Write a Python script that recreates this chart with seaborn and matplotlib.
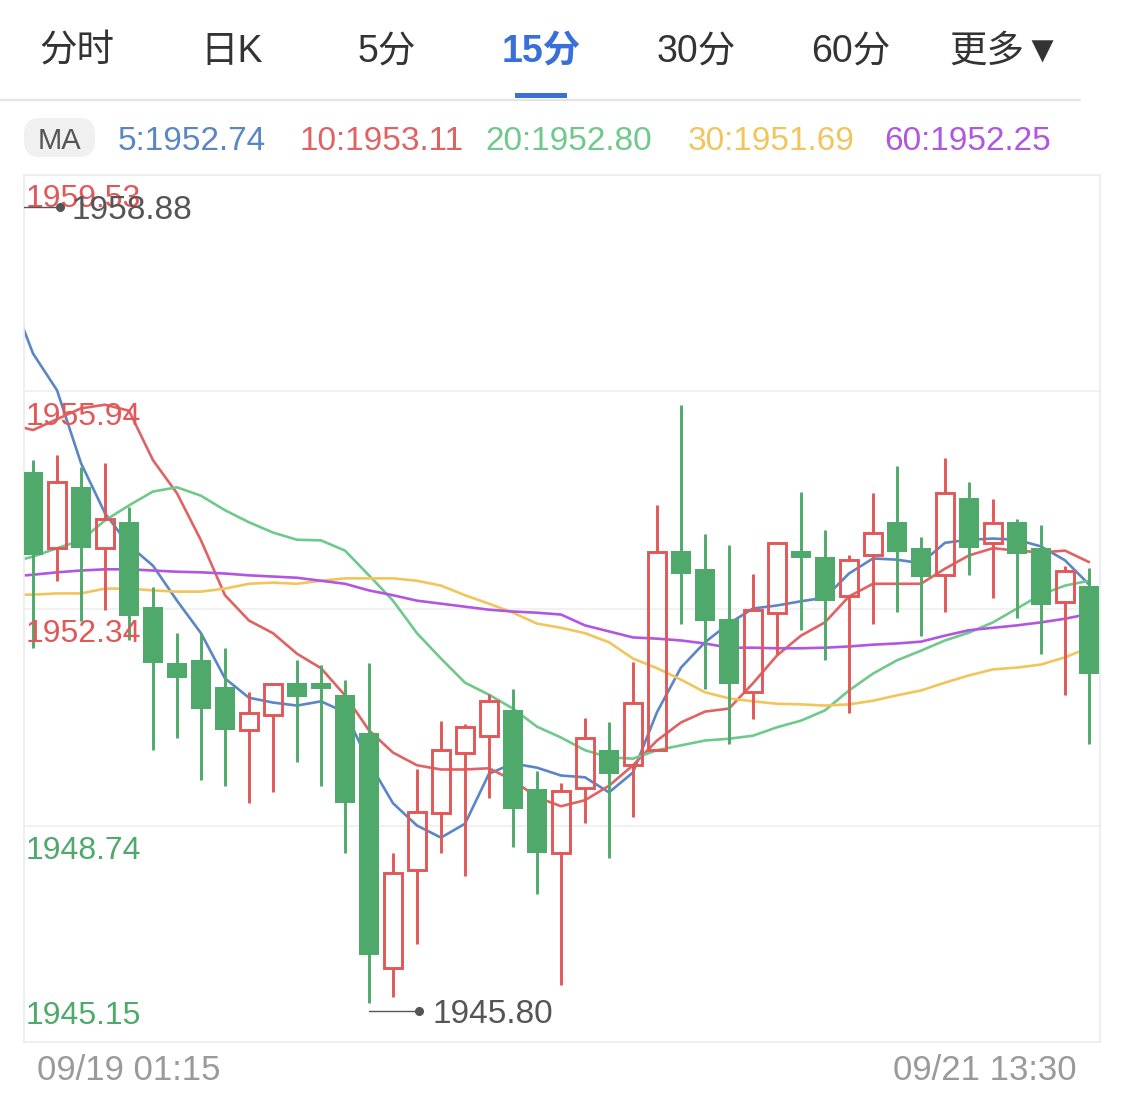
import numpy as np
import pandas as pd
import matplotlib
matplotlib.use("Agg")
import matplotlib.pyplot as plt
import matplotlib.transforms as mtransforms
from matplotlib.patches import FancyBboxPatch, Rectangle
import seaborn as sns

# ---- data (15 min candles) ----
tabs = ["分时", "日K", "5分", "15分", "30分", "60分", "更多▼"]
selected_tab = "15分"

opens = [1954.61, 1953.34, 1954.36, 1953.35, 1953.78, 1952.37, 1951.43, 1951.49, 1951.03, 1950.32,
         1950.58, 1951.10, 1951.10, 1950.91, 1950.28, 1946.37, 1948.01, 1948.94, 1949.94, 1950.23,
         1950.66, 1949.34, 1948.29, 1949.37, 1950.00, 1949.75, 1949.99, 1953.30, 1953.00, 1952.16,
         1950.95, 1952.27, 1953.29, 1953.20, 1952.54, 1953.22, 1953.77, 1953.34, 1952.89, 1954.18,
         1953.42, 1953.77, 1953.34, 1952.44, 1952.71]
highs = [1954.81, 1954.88, 1954.68, 1954.76, 1954.02, 1952.69, 1951.94, 1951.93, 1951.69, 1950.95,
         1951.10, 1951.48, 1951.40, 1951.16, 1951.44, 1948.28, 1949.67, 1950.48, 1950.43, 1950.93,
         1951.01, 1949.65, 1949.44, 1950.53, 1950.45, 1951.46, 1954.05, 1955.71, 1953.58, 1953.40,
         1952.92, 1953.42, 1954.28, 1953.65, 1953.22, 1954.26, 1954.70, 1953.53, 1954.83, 1954.43,
         1954.15, 1953.83, 1953.73, 1953.05, 1953.02]
lows = [1951.69, 1952.80, 1952.14, 1952.31, 1951.81, 1949.99, 1950.20, 1949.49, 1949.40, 1949.11,
        1949.29, 1949.79, 1949.40, 1948.29, 1945.80, 1945.89, 1946.78, 1948.29, 1947.90, 1949.19,
        1948.39, 1947.60, 1946.10, 1948.79, 1948.21, 1948.89, 1949.99, 1952.09, 1951.00, 1950.10,
        1950.50, 1951.59, 1951.99, 1951.49, 1950.60, 1952.09, 1952.29, 1951.89, 1952.29, 1952.90,
        1952.51, 1952.19, 1951.59, 1950.90, 1950.10]
closes = [1953.22, 1954.43, 1953.34, 1953.82, 1952.22, 1951.43, 1951.18, 1950.68, 1950.33, 1950.60,
          1951.08, 1950.88, 1951.01, 1949.12, 1946.60, 1947.96, 1948.96, 1949.99, 1950.37, 1950.80,
          1949.01, 1948.29, 1949.32, 1950.20, 1949.60, 1950.78, 1953.27, 1952.92, 1952.14, 1951.08,
          1952.32, 1953.42, 1953.17, 1952.47, 1953.15, 1953.60, 1953.27, 1952.87, 1954.25, 1953.35,
          1953.75, 1953.25, 1952.39, 1952.97, 1951.26]

# moving averages, first value belongs to the bar just left of the window
ma5 = [1957.61, 1956.57, 1955.96, 1954.75, 1953.92, 1953.39, 1953.05, 1952.47, 1951.93, 1951.18,
       1950.86, 1950.78, 1950.73, 1950.80, 1950.62, 1949.79, 1949.11, 1948.74, 1948.54, 1948.77,
       1949.60, 1949.77, 1949.70, 1949.57, 1949.54, 1949.29, 1949.62, 1950.62, 1951.36, 1951.78,
       1952.09, 1952.34, 1952.39, 1952.46, 1952.52, 1952.92, 1953.17, 1953.15, 1953.09, 1953.43,
       1953.48, 1953.50, 1953.48, 1953.37, 1953.14, 1952.74]
ma10 = [1955.40, 1955.30, 1955.48, 1955.66, 1955.72, 1955.62, 1954.80, 1954.25, 1953.47, 1952.56,
        1952.14, 1951.93, 1951.59, 1951.35, 1950.90, 1950.32, 1949.95, 1949.74, 1949.67, 1949.67,
        1949.69, 1949.49, 1949.21, 1949.06, 1949.16, 1949.40, 1949.74, 1950.15, 1950.45, 1950.63,
        1950.68, 1951.10, 1951.56, 1951.89, 1952.11, 1952.54, 1952.75, 1952.75, 1952.75, 1953.00,
        1953.22, 1953.34, 1953.30, 1953.27, 1953.30, 1953.11]
ma20 = [1953.10, 1953.20, 1953.34, 1953.47, 1953.80, 1954.05, 1954.28, 1954.35, 1954.21, 1953.97,
        1953.77, 1953.60, 1953.48, 1953.47, 1953.30, 1952.89, 1952.47, 1951.93, 1951.51, 1951.11,
        1950.91, 1950.68, 1950.38, 1950.20, 1949.99, 1949.87, 1949.85, 1949.99, 1950.07, 1950.15,
        1950.18, 1950.23, 1950.37, 1950.48, 1950.65, 1950.98, 1951.26, 1951.48, 1951.64, 1951.81,
        1951.94, 1952.11, 1952.34, 1952.57, 1952.72, 1952.80]
ma30 = [1952.57, 1952.57, 1952.59, 1952.59, 1952.67, 1952.67, 1952.64, 1952.62, 1952.62, 1952.67,
        1952.75, 1952.77, 1952.75, 1952.80, 1952.84, 1952.84, 1952.84, 1952.80, 1952.72, 1952.56,
        1952.42, 1952.27, 1952.09, 1952.02, 1951.93, 1951.78, 1951.51, 1951.35, 1951.16, 1950.95,
        1950.85, 1950.80, 1950.76, 1950.75, 1950.73, 1950.75, 1950.81, 1950.90, 1950.98, 1951.11,
        1951.23, 1951.33, 1951.36, 1951.41, 1951.53, 1951.69]
ma60 = [1952.87, 1952.90, 1952.94, 1952.97, 1952.99, 1952.99, 1952.97, 1952.95, 1952.94, 1952.92,
        1952.89, 1952.87, 1952.85, 1952.80, 1952.75, 1952.64, 1952.56, 1952.47, 1952.42, 1952.37,
        1952.32, 1952.29, 1952.27, 1952.24, 1952.06, 1951.96, 1951.86, 1951.84, 1951.81, 1951.76,
        1951.69, 1951.69, 1951.68, 1951.68, 1951.69, 1951.71, 1951.74, 1951.76, 1951.79, 1951.89,
        1951.98, 1952.02, 1952.06, 1952.11, 1952.17, 1952.25]

ma_periods = [5, 10, 20, 30, 60]
price_levels = [1959.53, 1955.94, 1952.34, 1948.74, 1945.15]
max_price = 1958.88
min_price = 1945.80
start_label = "09/19 01:15"
end_label = "09/21 13:30"

# ---- styling ----
W, H = 1125, 1109
RED = "#e25858"
GREEN = "#4fa96b"
MA_COLORS = ["#5b86c5", "#e06262", "#6fc98b", "#f2c55c", "#b156e0"]
BLUE_TAB = "#3a6fd8"

sns.set_style("white")
plt.rcParams["font.family"] = ["Liberation Sans", "Noto Sans CJK SC", "DejaVu Sans"]

fig = plt.figure(figsize=(W / 100, H / 100), dpi=100)

# overlay in pixel units for the header and footer
ov = fig.add_axes([0, 0, 1, 1])
ov.set_xlim(0, W)
ov.set_ylim(H, 0)
ov.axis("off")

for i, t in enumerate(tabs):
    xc = 77 + i * 154.7
    sel = t == selected_tab
    ov.text(xc, 48, t, ha="center", va="center_baseline", fontsize=27,
            color=BLUE_TAB if sel else "#333333", fontweight="bold" if sel else "normal")
    if sel:
        ov.add_patch(Rectangle((xc - 26, 93), 52, 5, color=BLUE_TAB, lw=0))
ov.plot([0, 1080], [99.5, 99.5], color="#e4e4e4", lw=1.6)

ov.add_patch(FancyBboxPatch((24, 118), 71, 39, boxstyle="round,pad=0,rounding_size=16",
                            facecolor="#f0f0f0", edgecolor="none"))
ov.text(59.5, 138, "MA", ha="center", va="center_baseline", fontsize=21, color="#555555")
legend_x = [118, 300, 485, 688, 884]
for p, vals, c, lx in zip(ma_periods, [ma5, ma10, ma20, ma30, ma60], MA_COLORS, legend_x):
    ov.text(lx, 138, f"{p}:{vals[-1]:.2f}", ha="left", va="center_baseline", fontsize=24, color=c)

ov.text(37, 1067, start_label, ha="left", va="center_baseline", fontsize=25, color="#9a9a9a")
ov.text(1077, 1067, end_label, ha="right", va="center_baseline", fontsize=25, color="#9a9a9a")

# ---- chart ----
ax = fig.add_axes([24 / W, 1 - 1042 / H, 1076 / W, 867 / H])
ax.set_facecolor("none")
for s in ax.spines.values():
    s.set_color("#ebebeb")
    s.set_linewidth(1.2)
ax.set_xticks([])
ax.set_yticks([])
ax.set_xlim(-0.375, 44.46)
ax.set_ylim(price_levels[-1], price_levels[0])

for lv in price_levels[1:-1]:
    ax.axhline(lv, color="#efefef", lw=1.2, zorder=1)

# moving average lines
ma_df = pd.DataFrame({
    "idx": np.tile(np.arange(-1, len(opens)), len(ma_periods)),
    "value": np.concatenate([ma5, ma10, ma20, ma30, ma60]),
    "ma": np.repeat([f"MA{p}" for p in ma_periods], len(ma5)),
})
sns.lineplot(data=ma_df, x="idx", y="value", hue="ma", estimator=None, sort=False,
             palette=dict(zip([f"MA{p}" for p in ma_periods], MA_COLORS)),
             lw=1.9, legend=False, ax=ax, zorder=2)
ax.set_xlabel("")
ax.set_ylabel("")

# candles
idx = np.arange(len(opens))
o, h, l, c = map(np.array, (opens, highs, lows, closes))
up = c >= o
lo_b = np.minimum(o, c)
hi_b = np.maximum(o, c)

ax.vlines(idx[~up], l[~up], h[~up], color=GREEN, lw=2.1, zorder=3)
ax.bar(idx[~up], hi_b[~up] - lo_b[~up], bottom=lo_b[~up], width=0.8, color=GREEN, lw=0, zorder=4)
ax.vlines(idx[up], hi_b[up], h[up], color=RED, lw=2.1, zorder=3)
ax.vlines(idx[up], l[up], lo_b[up], color=RED, lw=2.1, zorder=3)
ax.bar(idx[up], hi_b[up] - lo_b[up], bottom=lo_b[up], width=0.74, facecolor="none",
       edgecolor=RED, lw=2.1, zorder=4)

# price scale labels drawn inside the plot
blend = mtransforms.blended_transform_factory(ax.transAxes, ax.transData)
for k, lv in enumerate(price_levels):
    col = RED if k < 3 else GREEN
    dy = -14.5 if k == 0 else (-16 if k < 4 else 21)
    ax.annotate(f"{lv:.2f}", xy=(0, lv), xycoords=blend, xytext=(1.5, dy),
                textcoords="offset points", ha="left", va="center_baseline", fontsize=23,
                color=col, zorder=5)

# max / min markers
tr_max = mtransforms.offset_copy(ax.transData, fig=fig, y=7, units="dots")
ax.plot([-0.375, 1.125], [max_price, max_price], color="#555555", lw=1.0, transform=tr_max, zorder=6)
ax.plot([1.125], [max_price], "o", ms=5.5, color="#555555", transform=tr_max, zorder=6)
ax.text(1.6, max_price, f"{max_price:.2f}", transform=tr_max, ha="left", va="center_baseline",
        fontsize=24, color="#555555", zorder=6)

imin = int(np.argmin(l))
tr_min = mtransforms.offset_copy(ax.transData, fig=fig, y=-8, units="dots")
ax.plot([imin, imin + 2.1], [min_price, min_price], color="#555555", lw=1.0, transform=tr_min, zorder=6)
ax.plot([imin + 2.1], [min_price], "o", ms=5.5, color="#555555", transform=tr_min, zorder=6)
ax.text(imin + 2.65, min_price, f"{min_price:.2f}", transform=tr_min, ha="left", va="center_baseline",
        fontsize=24, color="#555555", zorder=6)

fig.savefig("out.png", dpi=100, facecolor="white")
plt.close(fig)
